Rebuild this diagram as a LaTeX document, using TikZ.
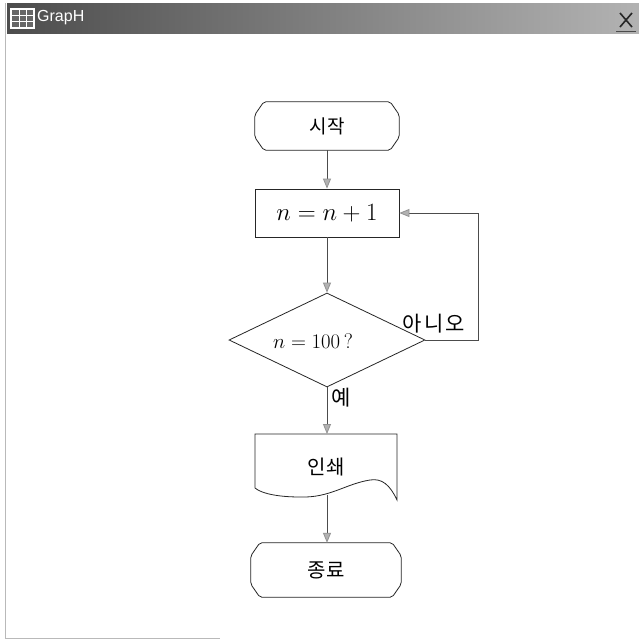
\documentclass[tikz,border=0pt]{standalone}
\usepackage{fontspec}
\newfontfamily\kr{Noto Sans CJK KR}
\setsansfont{Liberation Sans}
\usetikzlibrary{arrows.meta,calc,shapes.geometric}
\newcommand\drawterm[1]{\draw[shapeline,rounded corners=2pt]
  ($(#1.north west)+(9,0)$) -- ($(#1.north east)+(-9,0)$) --
  ($(#1.north east)+(0,13)$) -- ($(#1.south east)+(0,-13)$) --
  ($(#1.south east)+(-9,0)$) -- ($(#1.south west)+(9,0)$) --
  ($(#1.south west)+(0,-13)$) -- ($(#1.north west)+(0,13)$) -- cycle;}
\begin{document}
\begin{tikzpicture}[x=1pt,y=-1pt,
  shapeline/.style={draw=black!85,line width=0.8pt},
  conn/.style={draw=black!70,line width=0.8pt,
    -{Triangle[length=10pt,width=8pt,color=gray!85,fill=gray!60]}},
  termbox/.style={inner sep=0pt,minimum width=144pt,minimum height=48pt,
    font=\kr\fontsize{19}{19}\selectfont},
  procbox/.style={shapeline,inner sep=0pt,minimum width=144pt,minimum height=48pt,
    font=\fontsize{25}{25}\selectfont},
  decbox/.style={shapeline,diamond,inner sep=0pt,minimum width=196pt,
    minimum height=94pt},
  lbl/.style={inner sep=0pt,font=\kr\fontsize{21}{21}\selectfont}]
\useasboundingbox (0,0) rectangle (639,641);
\fill[white] (0,0) rectangle (639,641);
% window
\shade[left color=black!70,right color=black!30] (7,3) rectangle (639,33);
\draw[gray!55,line width=0.6pt] (5,3) -- (5,638) -- (220,638);
\fill[white] (10,8) rectangle (35,29);
\fill[black!60] (12,10) rectangle (33,27);
\draw[white,line width=0.8pt] (12,15) -- (33,15) (12,21) -- (33,21)
  (19,10) -- (19,27) (26,10) -- (26,27);
\node[anchor=west,inner sep=0pt,text=white,font=\sffamily\fontsize{16}{16}\selectfont] (title) at (37,18) {GrapH};
\draw[black!85,line width=1.6pt] (620,13) -- (632,27) (632,13) -- (620,27);
\draw[black!70,line width=1pt] (616,31) -- (636,31);
% flowchart
\node[termbox] (start) at (327,126) {시작};
\drawterm{start}
\node[procbox] (inc) at (327,213) {$n=n+1$};
\node[decbox] (dec) at (327,340) {};
\node[inner sep=0pt,font=\fontsize{21}{21}\selectfont] (dectext) at (313,341) {$n=100$\,?};
\node[inner sep=0pt,font=\kr\fontsize{20}{20}\selectfont] (print) at (326,467) {인쇄};
\coordinate (ptop) at (327,434);
\coordinate (pbot) at (327,495);
\draw[shapeline] (255,434) -- (397,434) -- (397,500)
  .. controls (390,485) and (382,478) .. (370,480)
  .. controls (345,484) and (330,498) .. (300,497)
  .. controls (280,497) and (262,494) .. (255,488) -- cycle;
\node[termbox,minimum width=150pt,minimum height=54pt,font=\kr\fontsize{20}{20}\selectfont] (stop) at (326,570) {종료};
\drawterm{stop}
\draw[conn] (start) -- (inc);
\draw[conn] (inc) -- (dec);
\draw[conn] (dec.south) -- (ptop);
\draw[conn] (pbot) -- (pbot |- stop.north);
\draw[conn] (dec.east) -- ++(53,0) |- (inc.east);
\node[lbl,anchor=base west] (no) at (402,331) {\addfontfeatures{LetterSpace=12}아니오};
\node[lbl,anchor=west] (yes) at (331,398) {예};
\end{tikzpicture}
\end{document}
